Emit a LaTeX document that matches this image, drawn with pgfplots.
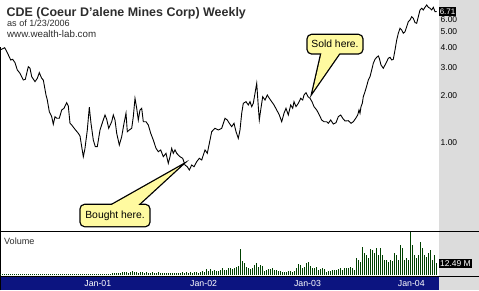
\documentclass[border=0pt]{standalone}
\usepackage{fontspec}
\setmainfont{Liberation Sans}
\usepackage{pgfplots}
\pgfplotsset{compat=1.18}
\definecolor{navy}{RGB}{12,20,128}
\definecolor{panegray}{RGB}{220,220,220}
\definecolor{volgreen}{RGB}{0,64,0}
\definecolor{callout}{RGB}{255,250,160}
\definecolor{titlegray}{RGB}{45,45,45}
\begin{document}
\begin{tikzpicture}[x=1bp,y=1bp]
\useasboundingbox (0,0) rectangle (479,290);
\fill[white] (0,0) rectangle (479,290);
\fill[panegray] (439,0) rectangle (479,290);
\fill[navy] (0,0) rectangle (439,13.5);
\draw[black,line width=1bp] (0,59) -- (479,59);
\draw[black,line width=1bp] (0,13.5) -- (479,13.5);
\draw[black,line width=1bp] (0.5,0) -- (0.5,243);

% ---------- price pane ----------
\begin{axis}[at={(0bp,59bp)}, anchor=south west, scale only axis,
  width=439bp, height=231bp,
  xmin=0, xmax=219.5, ymode=log, ymin=0.2796, ymax=7.93,
  axis line style={draw=none}, major tick length=0pt, minor tick length=0pt,
  xtick=\empty, ytick={1,2,3,4,5,6},
  yticklabels={1.00,2.00,3.00,4.00,5.00,6.00},
  yticklabel pos=right,
  yticklabel style={anchor=west, inner sep=0pt, xshift=1.5bp,
    font=\fontsize{8.5}{9}\selectfont, text=black},
  ]
\addplot[black, line width=0.9bp] coordinates {
(0,3.845)(2.35,3.975)(3.65,3.699)(5.35,3.327)(6.35,3.360)(7.5,3.199)(8.65,2.878)(10,2.744)(11.65,2.490)(12.65,2.515)(14.15,3.019)(15,2.950)(15.85,2.612)(17.5,2.430)(18.65,2.552)(19.65,2.768)(20.85,2.552)(21.65,2.490)(23,2.004)(23.65,1.864)(24.65,1.574)(25.85,1.464)(26.65,1.311)(27.5,1.464)(28.35,1.430)(29.65,1.430)(30.85,1.613)(32,1.653)(33.35,1.793)(34.15,1.709)(35,1.330)(35.85,1.298)(37.5,1.219)(39.15,1.151)(40,1.107)(40.85,0.948)(41.65,0.820)(42.5,0.926)(43.65,1.207)(44.65,1.677)(45.5,1.330)(46.65,1.044)(47.65,0.948)(48.65,0.948)(50,1.207)(51.35,1.361)(52.5,1.500)(53.35,1.409)(54.35,1.237)(55.85,1.361)(56.65,1.500)(57.5,1.395)(58.35,1.151)(59.65,0.971)(60.85,1.096)(62,1.330)(63,1.538)(63.65,1.178)(64.65,1.207)(65.85,1.237)(66.65,1.464)(67.5,1.910)(68.35,1.653)(69.15,1.395)(70,1.613)(70.85,1.653)(71.65,1.361)(73,1.361)(74.15,1.298)(75.35,1.151)(76.65,1.044)(78,0.926)(79.15,0.882)(80.35,0.904)(81.65,0.820)(83,0.861)(84.15,0.745)(85,0.820)(85.85,0.926)(86.65,0.861)(87.5,0.904)(88.35,0.861)(90,0.820)(91.35,0.801)(92.5,0.727)(93.65,0.709)(94.65,0.676)(95.85,0.727)(97,0.709)(98.35,0.763)(99.65,0.801)(100.85,0.782)(102.5,0.904)(103.65,0.861)(105,1.044)(105.85,1.178)(107.5,1.237)(109.15,1.207)(110.85,1.237)(112.5,1.430)(113.65,1.395)(114.65,1.330)(115.85,1.266)(117,1.330)(118,1.178)(119.15,1.070)(120,1.207)(120.85,1.538)(121.65,1.777)(123,1.819)(124.15,1.734)(125,1.819)(125.85,1.692)(126.65,1.777)(127.5,2.054)(128.35,2.374)(129.15,1.692)(129.65,1.395)(130.35,1.613)(131.35,1.955)(132.5,1.864)(133.65,2.004)(134.65,1.910)(135.85,1.819)(137,1.734)(138.35,1.613)(139.65,1.500)(140.85,1.361)(142,1.538)(143,1.653)(144.15,1.500)(145.35,1.734)(146.35,1.653)(147,1.819)(148,1.692)(149.15,1.777)(150.35,1.910)(151.35,1.864)(152,2.004)(153,2.072)(154,1.955)(155,1.910)(156,1.819)(157,1.692)(158.35,1.613)(159.65,1.500)(160.85,1.395)(162,1.361)(163.35,1.361)(164.15,1.330)(165.35,1.395)(166.65,1.317)(168,1.342)(169.15,1.464)(170.35,1.500)(171.35,1.430)(172.5,1.375)(174.15,1.381)(175.5,1.330)(176.65,1.361)(177.85,1.430)(178.85,1.500)(179.5,1.613)(180,1.538)(180.5,1.692)(181.15,1.777)(181.65,1.955)(182.5,2.102)(183.35,2.283)(184.15,2.490)(185,2.612)(185.85,2.878)(186.65,3.171)(187.5,3.360)(188.35,3.459)(189.15,3.526)(189.65,3.410)(190.5,3.094)(191.65,2.950)(192.5,3.094)(193.35,3.246)(194.15,3.410)(195,3.459)(195.85,3.327)(196.65,3.360)(197.5,3.845)(198.35,4.444)(199.15,4.897)(200,5.265)(200.85,5.137)(201.65,4.897)(202.5,5.012)(203.35,5.388)(204.15,5.794)(205,5.938)(205.85,6.228)(206.65,6.086)(207.5,5.711)(208.35,5.661)(209.15,6.228)(210,6.863)(210.85,7.034)(211.65,6.863)(212.5,7.137)(213.35,7.378)(214.15,7.137)(215,7.034)(215.85,6.863)(216.65,7.137)(217.5,6.696)(218.35,6.71)
};
\coordinate (lastprice) at (axis cs:219.5,6.71);
\end{axis}

% ---------- volume pane ----------
\begin{axis}[at={(0bp,14bp)}, anchor=south west, scale only axis,
  width=439bp, height=45bp,
  xmin=0, xmax=219.5, ymin=-1, ymax=44,
  axis line style={draw=none}, major tick length=0pt,
  ytick=\empty,
  xtick={48.9,101.8,153.75,205.65},
  xticklabels={Jan-01,Jan-02,Jan-03,Jan-04},
  xticklabel style={anchor=north, inner sep=0pt, yshift=-4bp,
    font=\fontsize{8.8}{9}\selectfont, text=white},
  ]
\addplot[ycomb, volgreen, line width=1bp, mark=none] coordinates {
(0,1.0)(1,0.8)(2,1.2)(3,0.9)(4,1.0)(5,0.7)(6,1.1)(7,0.9)(8,1.0)(9,1.2)
(10,0.8)(11,1.0)(12,1.3)(13,0.9)(14,0.8)(15,1.0)(16,1.1)(17,0.9)(18,1.2)(19,1.0)
(20,0.9)(21,1.1)(22,0.8)(23,1.0)(24,1.2)(25,1.0)(26,0.9)(27,1.3)(28,1.1)(29,1.0)
(30,0.8)(31,1.0)(32,1.2)(33,0.9)(34,1.1)(35,1.0)(36,0.8)(37,1.2)(38,1.0)(39,0.9)
(40,1.3)(41,1.5)(42,1.1)(43,1.0)(44,1.4)(45,1.2)(46,0.9)(47,1.1)(48,1.3)(49,1.0)
(50,1.2)(51,1.0)(52,0.9)(53,1.4)(54,1.1)(55,1.3)(56,1.8)(57,2.0)(58,1.6)(59,2.4)
(60,2.2)(61,3.0)(62,3.5)(63,2.8)(64,2.5)(65,3.2)(66,4.0)(67,2.6)(68,3.1)(69,2.4)
(70,2.7)(71,3.3)(72,2.2)(73,2.9)(74,2.5)(75,2.0)(76,2.6)(77,2.3)(78,1.9)(79,2.8)
(80,2.1)(81,1.8)(82,2.4)(83,2.0)(84,1.7)(85,2.2)(86,1.9)(87,2.5)(88,2.0)(89,1.8)
(90,2.3)(91,2.6)(92,2.1)(93,2.9)(94,2.4)(95,3.0)(96,2.2)(97,2.7)(98,3.3)(99,2.5)
(100,3.0)(101,4.2)(102,3.5)(103,5.8)(104,4.0)(105,6.2)(106,3.8)(107,5.0)(108,4.4)(109,3.6)
(110,5.2)(111,6.7)(112,4.8)(113,5.5)(114,6.7)(115,7.0)(116,5.9)(117,7.3)(118,8.3)(119,9.3)
(120,26)(121,14)(122,11.7)(123,8.3)(124,6.7)(125,6)(126,7.3)(127,10)(128,11.7)(129,8.3)
(130,10)(131,9.3)(132,4)(133,5)(134,6)(135,6)(136,6.7)(137,5)(138,5)(139,4)
(140,4)(141,3.3)(142,3.3)(143,3.3)(144,4)(145,4)(146,3.3)(147,4)(148,7.3)(149,10.7)
(150,10)(151,7.3)(152,8.3)(153,11.7)(154,13.3)(155,9.3)(156,7.3)(157,6.7)(158,8.3)(159,5)
(160,6)(161,6.7)(162,6)(163,2.7)(164,4)(165,4)(166,5)(167,5)(168,5)(169,6)
(170,6.7)(171,5)(172,7.3)(173,7.3)(174,6.7)(175,8.3)(176,6.7)(177,5)(178,16.7)(179,15)
(180,13.3)(181,28.3)(182,21.7)(183,20)(184,16.7)(185,26)(186,25)(187,21.7)(188,26.7)(189,20)
(190,26.7)(191,20)(192,15)(193,15)(194,13.3)(195,15)(196,14)(197,21.7)(198,20)(199,15)
(200,30)(201,26.7)(202,15)(203,16.7)(204,15)(205,42.7)(206,30)(207,20)(208,16.7)(209,20)
(210,33.3)(211,26.7)(212,20)(213,18.3)(214,21.7)(215,25)(216,15)(217,20)(218,12.49)
};
\coordinate (lastvol) at (axis cs:219.5,12.49);
\end{axis}

% ---------- labels ----------
\node[anchor=base west, inner sep=0pt, text=titlegray, font=\bfseries\fontsize{12.5}{13}\selectfont]
  at (6.5,274) {CDE (Coeur D'alene Mines Corp) Weekly};
\node[anchor=base west, inner sep=0pt, text=titlegray, font=\fontsize{9.1}{10}\selectfont]
  at (7,263.3) {as of 1/23/2006};
\node[anchor=base west, inner sep=0pt, text=titlegray, font=\fontsize{9.8}{10}\selectfont]
  at (7,252.7) {www.wealth-lab.com};
\node[anchor=base west, inner sep=0pt, text=titlegray, font=\fontsize{9.1}{10}\selectfont]
  at (4,46) {Volume};

\node[anchor=west, fill=black, text=white, inner xsep=0.6bp, inner ysep=1.3bp,
  font=\fontsize{8}{9}\selectfont] at (lastprice) {6.71};
\node[anchor=west, fill=black, text=white, inner xsep=1bp, inner ysep=1.3bp,
  font=\fontsize{8.5}{9}\selectfont] at ([yshift=-1bp]lastvol) {12.49 M};

% ---------- callouts ----------
% Bought here
\draw[black, line width=2.6bp, rounded corners=4bp] (80.7,64) rectangle (149.3,85);
\draw[black, line width=2.6bp, line join=miter] (110,84) -- (180,123.5) -- (137,84);
\fill[callout, rounded corners=4bp] (80.7,64) rectangle (149.3,85);
\fill[callout] (110,84) -- (180,123.5) -- (137,84) -- cycle;
\node[font=\fontsize{10.4}{11}\selectfont, text=black] at (115,74.5) {Bought here.};
% Sold here
\draw[black, line width=2.6bp, rounded corners=4bp] (307.7,236.7) rectangle (362.3,255);
\draw[black, line width=2.6bp, line join=miter] (321.7,237.7) -- (312.7,198.3) -- (340,237.7);
\fill[callout, rounded corners=4bp] (307.7,236.7) rectangle (362.3,255);
\fill[callout] (321.7,237.7) -- (312.7,198.3) -- (340,237.7) -- cycle;
\node[font=\fontsize{10.4}{11}\selectfont, text=black] at (335,245.8) {Sold here.};
\end{tikzpicture}
\end{document}
